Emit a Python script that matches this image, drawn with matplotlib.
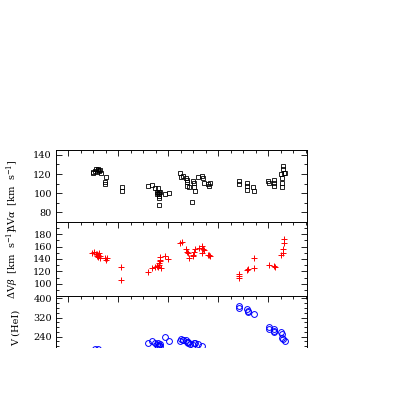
import matplotlib
matplotlib.use("Agg")
import matplotlib.pyplot as plt
from matplotlib.ticker import MultipleLocator, NullFormatter

# 時刻 (任意単位) と速度差のデータ
alpha_t = [1.98, 1.98, 2.22, 2.38, 2.46, 2.30, 2.54, 2.59, 2.35, 2.14,
           3.02, 2.94, 2.94, 4.27, 4.27,
           6.40, 6.67, 6.94, 7.07, 7.07, 7.20, 7.28, 7.28, 7.28, 7.28, 7.26, 7.20, 7.34, 7.74, 8.08,
           8.94, 8.99, 9.20, 9.42, 9.47, 9.52, 9.47, 9.68, 9.87, 10.0, 10.06, 10.08, 10.14,
           10.40, 10.67, 10.75, 10.88, 11.20, 11.28, 11.34,
           13.66, 13.66, 14.27, 14.32, 14.27, 14.80, 14.86,
           16.0, 16.08, 16.46, 16.46, 16.46,
           17.02, 17.07, 17.12, 17.12, 17.20, 17.20, 17.28, 17.34]
alpha_v = [120.8, 122.5, 125.3, 125.3, 123.2, 122.2, 124.6, 120.8, 124.0, 123.5,
           116.6, 111.4, 109.3, 106.8, 102.3,
           107.9, 108.6, 105.1, 100.9, 98.9, 105.1, 101.6, 99.5, 97.4, 94.7, 87.6, 100.0, 100.8, 98.9, 100.5,
           121.4, 116.6, 118.3, 115.6, 113.8, 111.4, 107.9, 106.2, 90.8, 112.8, 110.4, 106.8, 102.6,
           117.3, 118.3, 116.2, 110.7, 109.3, 107.5, 110.4,
           112.8, 109.6, 110.4, 107.9, 103.4, 106.8, 102.3,
           113.1, 111.0, 113.8, 110.4, 107.5,
           120.1, 115.6, 111.0, 106.8, 128.5, 125.0, 121.5, 120.8]

beta_t = [1.92, 2.08, 2.19, 2.27, 2.40, 2.35, 2.54, 2.54, 2.30, 2.45,
          2.94, 3.02, 3.07, 4.22, 4.22,
          6.40, 6.67, 6.94, 7.07, 7.20, 7.28, 7.34, 7.34, 7.42, 7.26, 7.30, 7.74, 8.0,
          8.94, 9.12, 9.42, 9.47, 9.60, 9.68, 9.95, 10.08, 10.14, 10.0, 10.48, 10.72, 10.80,
          10.72, 10.88, 11.20, 11.34, 11.28,
          13.66, 13.66, 13.66, 14.27, 14.35, 14.86, 14.86,
          16.06, 16.48, 16.54,
          17.02, 17.15, 17.20, 17.28, 17.28]
beta_v = [149.8, 150.7, 148.1, 145.4, 146.5, 142.6, 144.2, 141.0, 148.0, 149.0,
          141.0, 138.4, 141.0, 127.5, 106.3,
          119.3, 125.4, 126.4, 129.1, 127.5, 132.8, 142.6, 138.4, 125.4, 131.0, 136.0, 144.2, 140.0,
          166.0, 167.0, 156.3, 150.7, 149.8, 141.6, 147.0, 150.7, 156.3, 144.2, 157.9, 160.5, 156.3,
          149.8, 154.6, 147.0, 145.4, 147.0,
          116.6, 112.9, 109.1, 122.1, 123.7, 141.6, 125.4,
          130.7, 128.0, 126.4,
          147.0, 149.8, 156.3, 172.5, 166.0]

hei_t = [2.14, 2.40,
         6.40, 6.67, 6.94, 7.07, 7.20, 7.28, 7.34, 7.20, 7.34, 7.74, 8.06,
         8.94, 8.99, 9.20, 9.42, 9.47, 9.60, 9.74, 10.0, 10.14, 10.40, 10.67, 9.15, 9.55, 10.06,
         13.66, 13.66, 14.27, 14.35, 14.40, 14.86,
         16.06, 16.06, 16.46, 16.48, 16.46,
         17.02, 17.07, 17.12, 17.20, 17.34]
hei_v = [190, 190,
         215, 223, 215, 206, 212.5, 205, 210, 200, 202, 237.5, 222,
         222, 230, 226, 226, 219, 212.5, 208, 205, 212.5, 210, 201, 228, 218, 215,
         369, 358, 355.4, 348.3, 341.7, 334.6,
         281.7, 272, 270.8, 258.3, 265,
         261, 250, 233.3, 229, 222]

plt.rcParams["font.family"] = "DejaVu Serif"
plt.rcParams["mathtext.fontset"] = "dejavuserif"
plt.rcParams["font.size"] = 7

fig = plt.figure(figsize=(4.0, 3.99), dpi=100)
W, H = 400.0, 399.0
left, right = 56 / W, 307 / W
ax1 = fig.add_axes([left, (H - 222) / H, right - left, 72 / H])
ax2 = fig.add_axes([left, (H - 296) / H, right - left, 74 / H])
ax3 = fig.add_axes([left, (H - 347) / H, right - left, 51 / H])

ax1.plot(alpha_t, alpha_v, ls="none", marker="s", ms=3, mfc="none", mec="black", mew=0.6)
ax2.plot(beta_t, beta_v, ls="none", marker="+", ms=4.5, color="red", mew=0.7)
ax3.plot(hei_t, hei_v, ls="none", marker="o", ms=4.2, mfc="none", mec="blue", mew=0.7)

ax1.set_ylim(70, 145)
ax2.set_ylim(80.5, 199.5)
ax3.set_ylim(197, 410)
ax1.yaxis.set_major_locator(MultipleLocator(20))
ax1.yaxis.set_minor_locator(MultipleLocator(10))
ax2.yaxis.set_major_locator(MultipleLocator(20))
ax2.yaxis.set_minor_locator(MultipleLocator(10))
ax3.yaxis.set_major_locator(MultipleLocator(80))
ax3.yaxis.set_minor_locator(MultipleLocator(20))

for ax in (ax1, ax2, ax3):
    ax.set_xlim(-0.984, 19.096)
    ax.xaxis.set_major_locator(MultipleLocator(4))
    ax.xaxis.set_minor_locator(MultipleLocator(1))
    ax.xaxis.set_major_formatter(NullFormatter())
    ax.tick_params(which="both", direction="in", top=True, bottom=False,
                   left=True, right=True, labelbottom=False, width=0.6)
    ax.tick_params(which="major", length=4, pad=3)
    ax.tick_params(which="minor", length=2)
    for s in ax.spines.values():
        s.set_linewidth(0.7)

ax3.spines["bottom"].set_visible(False)

ax1.set_ylabel(r"$\Delta$V$\alpha$  [km  s$^{-1}$]")
ax2.set_ylabel(r"$\Delta$V$\beta$  [km  s$^{-1}$]")
ax3.set_ylabel("V (HeI)")
ax1.yaxis.set_label_coords(-0.14, 0.37)
ax2.yaxis.set_label_coords(-0.14, 0.44)
ax3.yaxis.set_label_coords(-0.14, 0.38)

fig.savefig("out.png", dpi=100)
